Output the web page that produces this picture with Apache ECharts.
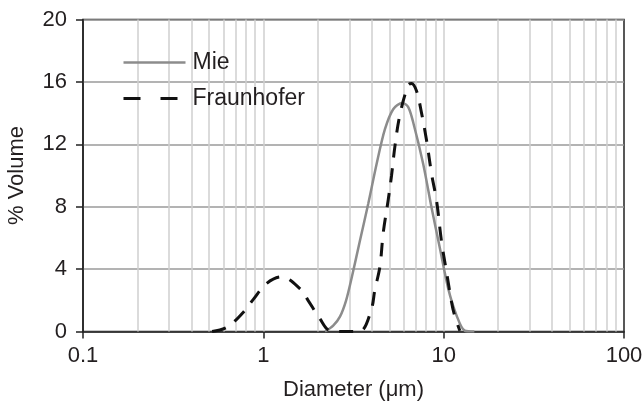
<!DOCTYPE html>
<html>
<head>
<meta charset="utf-8">
<script src="https://cdn.jsdelivr.net/npm/echarts@6/dist/echarts.min.js"></script>
<style>html,body{margin:0;padding:0;background:#fff}#c{width:644px;height:401px}</style>
</head>
<body>
<div id="c"></div>
<script>
var mieX = [2.2, 2.44, 2.66, 2.87, 3.09, 3.43, 3.82, 4.25, 4.72, 5.25, 5.9, 6.35, 6.78, 7.7, 8.57, 9.53, 10.6, 11.8, 13.1, 14.8];
var mieY = [0, 0.37, 0.95, 1.95, 3.45, 5.8, 8.2, 10.75, 12.95, 14.25, 14.65, 14.4, 13.4, 10.74, 7.93, 5.34, 2.75, 1.02, 0.05, 0];
var frX = [0.52, 0.63, 0.775, 0.88, 1.04, 1.26, 1.6, 1.77, 2.06, 2.33, 2.7, 3.2, 3.51, 3.98, 4.15, 4.43, 4.62, 4.93, 5.14, 5.37, 5.72, 6.36, 6.64, 7.08, 7.54, 8.04, 8.57, 9.14, 9.73, 10.37, 11.06, 11.5, 12.3];
var frY = [0, 0.28, 1.24, 2.06, 3.07, 3.5, 2.74, 2.0, 0.82, 0.06, 0, 0, 0.05, 1.45, 2.64, 4.15, 6.3, 8.47, 10.0, 11.9, 13.9, 15.8, 15.9, 15.4, 14.0, 12.25, 10.1, 8.36, 5.77, 3.82, 1.88, 1.02, 0.05];
var xTicks = [0.1, 1, 10, 100];
var yTicks = [0, 4, 8, 12, 16, 20];
var seriesNames = ['Mie', 'Fraunhofer'];

function pairs(xs, ys) { return xs.map(function (x, i) { return [x, ys[i]]; }); }
var minorGrid = [];
for (var d = 0; d < xTicks.length - 1; d++) {
  for (var k = 2; k <= 9; k++) minorGrid.push({ xAxis: xTicks[d] * k });
}
minorGrid.push({ xAxis: 1 }, { xAxis: 10 });

var font = 'Liberation Sans, Arial, sans-serif';
var txt = '#231f20';
var chart = echarts.init(document.getElementById('c'), null, { renderer: 'canvas' });
chart.setOption({
  animation: false,
  backgroundColor: '#fff',
  grid: { left: 83, right: 20, top: 19.5, bottom: 69.5, containLabel: false, outerBoundsMode: 'none',
    show: true, borderColor: '#222', borderWidth: 1.5, backgroundColor: 'transparent' },
  legend: {
    left: 122, top: 51, padding: 0, orient: 'vertical', itemWidth: 62, itemHeight: 14, itemGap: 13,
    textStyle: { fontFamily: font, fontSize: 23, color: txt, padding: [0, 0, 0, 2] },
    itemStyle: { opacity: 0 },
    data: [
      { name: seriesNames[0], lineStyle: { color: '#8c8c8c', width: 2.5, type: 'solid' }, itemStyle: { opacity: 0 } },
      { name: seriesNames[1], lineStyle: { color: '#111', width: 3, type: [17, 20] }, itemStyle: { opacity: 0 } }
    ]
  },
  xAxis: {
    type: 'log', min: xTicks[0], max: xTicks[xTicks.length - 1], logBase: 10,
    name: 'Diameter (\u03bcm)', nameLocation: 'middle', nameGap: 47,
    nameTextStyle: { fontFamily: font, fontSize: 22, color: txt },
    axisLine: { show: true, onZero: false, lineStyle: { color: '#222', width: 1.5 } },
    axisTick: { show: true, length: 7, lineStyle: { color: '#222', width: 1.5 } },
    axisLabel: { fontFamily: font, fontSize: 22, color: txt, margin: 13,
      formatter: function (v) { return String(v); } },
    splitLine: { show: false }
  },
  yAxis: {
    type: 'value', min: yTicks[0], max: yTicks[yTicks.length - 1], interval: 4,
    name: '% Volume', nameLocation: 'middle', nameGap: 55,
    nameTextStyle: { fontFamily: font, fontSize: 22, color: txt },
    axisLine: { show: true, lineStyle: { color: '#222', width: 1.5 } },
    axisTick: { show: true, length: 7, lineStyle: { color: '#222', width: 1.5 } },
    axisLabel: { fontFamily: font, fontSize: 22, color: txt, margin: 16 },
    splitLine: { show: true, lineStyle: { color: '#9a9a9a', width: 1.5 } }
  },
  series: [
    {
      name: seriesNames[0], type: 'line', data: pairs(mieX, mieY), smooth: 0.3,
      showSymbol: false, symbol: 'none', z: 3,
      lineStyle: { color: '#8c8c8c', width: 2.5 }, itemStyle: { color: '#8c8c8c' },
      markLine: { silent: true, symbol: 'none', label: { show: false }, animation: false,
        lineStyle: { color: '#cfcfcf', width: 1.5, type: 'solid' }, data: minorGrid, z: 1 }
    },
    {
      name: seriesNames[1], type: 'line', data: pairs(frX, frY), smooth: 0.35,
      showSymbol: false, symbol: 'none', z: 4,
      lineStyle: { color: '#111', width: 3, type: [14, 11] }, itemStyle: { color: '#111' }
    }
  ]
});
</script>
</body>
</html>
